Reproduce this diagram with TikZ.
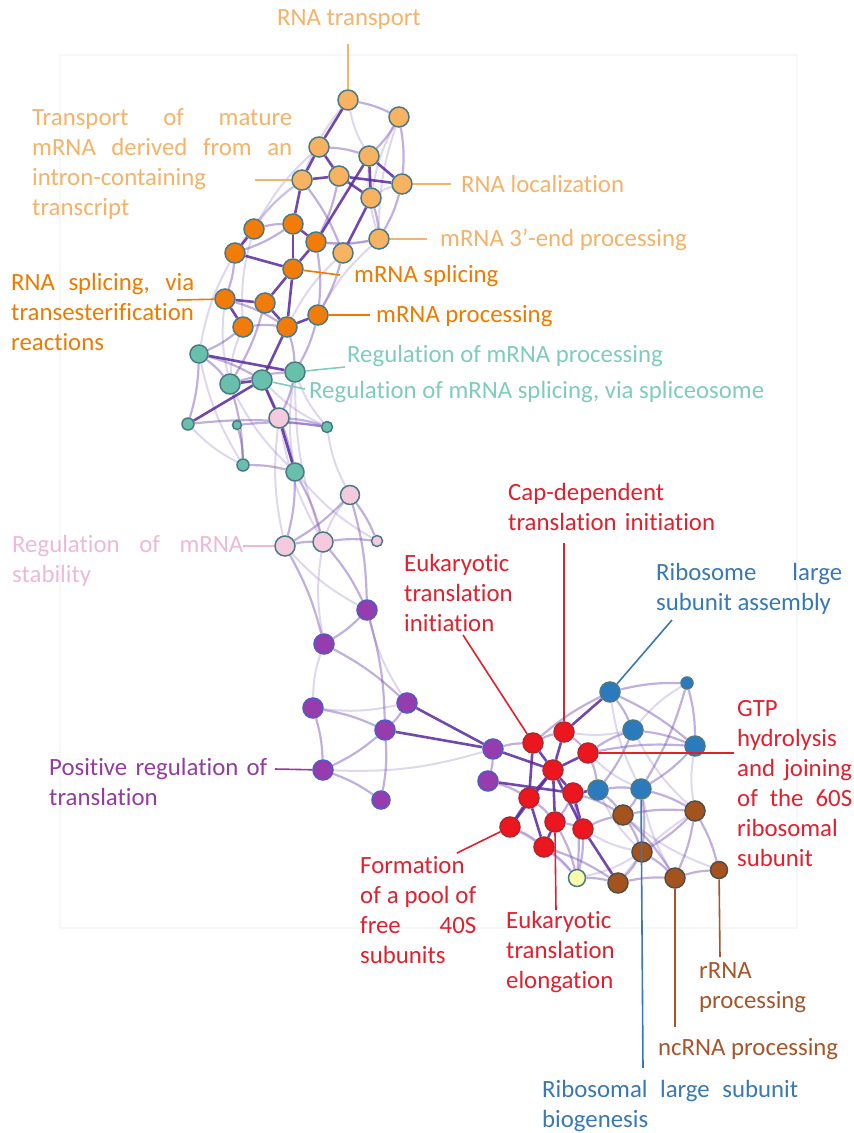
\documentclass[tikz,border=0pt]{standalone}
\usepackage{fontspec}
\setmainfont{Carlito}[Ligatures=NoCommon]
\usetikzlibrary{backgrounds}
\hbadness=10000 \vbadness=10000 \hfuzz=8pt
\definecolor{cLO}{RGB}{245,178,105}
\definecolor{cLOn}{RGB}{247,178,98}
\definecolor{cDO}{RGB}{238,122,0}
\definecolor{cDOn}{RGB}{242,124,10}
\definecolor{cTE}{RGB}{128,204,188}
\definecolor{cTEn}{RGB}{104,192,172}
\definecolor{cPK}{RGB}{236,186,216}
\definecolor{cPKn}{RGB}{246,202,222}
\definecolor{cPU}{RGB}{146,60,160}
\definecolor{cPUn}{RGB}{150,60,172}
\definecolor{cRD}{RGB}{226,32,45}
\definecolor{cRDn}{RGB}{236,22,30}
\definecolor{cBL}{RGB}{56,120,180}
\definecolor{cBLn}{RGB}{44,122,190}
\definecolor{cBR}{RGB}{166,86,42}
\definecolor{cBRn}{RGB}{164,82,30}
\definecolor{cYEn}{RGB}{248,250,172}
\definecolor{bord}{RGB}{74,122,132}
\definecolor{bordpu}{RGB}{80,90,200}
\definecolor{bordrd}{RGB}{170,40,50}
\definecolor{bordbr}{RGB}{80,80,70}
\definecolor{eS}{RGB}{88,40,160}
\definecolor{eM}{RGB}{118,80,180}
\definecolor{eF}{RGB}{150,122,200}
\begin{document}
\begin{tikzpicture}[x=1pt,y=-1pt,
  nd/.style={circle,inner sep=0pt,minimum size=20pt,draw=bord,line width=1.5pt},
  sm/.style={minimum size=12pt},
  tiny/.style={minimum size=9pt},
  nLO/.style={nd,fill=cLOn},
  nDO/.style={nd,fill=cDOn},
  nTE/.style={nd,fill=cTEn},
  nPK/.style={nd,fill=cPKn},
  nPU/.style={nd,fill=cPUn,draw=bordpu},
  nRD/.style={nd,fill=cRDn,draw=bordrd},
  nBL/.style={nd,fill=cBLn,draw=bord},
  nBR/.style={nd,fill=cBRn,draw=bordbr},
  nYE/.style={nd,fill=cYEn,minimum size=17pt},
  eStrong/.style={draw=eS,line width=2.6pt,opacity=0.85},
  eMid/.style={draw=eM,line width=2.2pt,opacity=0.45,bend left=7},
  eFaint/.style={draw=eF,line width=2pt,opacity=0.3,bend right=9},
  lab/.style={inner sep=0pt,anchor=base west,font=\fontsize{24.8}{30}\selectfont},
  jus/.style={lab,align=justify},
  lft/.style={lab,align=left},
  lead/.style={line width=1.6pt}]
\useasboundingbox (0,0) rectangle (854,1133);
% ---- nodes: light orange
\node[nLO] (lo1) at (348,100) {};
\node[nLO] (lo2) at (399,117) {};
\node[nLO] (lo3) at (319,147) {};
\node[nLO] (lo4) at (369,156) {};
\node[nLO] (lo5) at (339,176) {};
\node[nLO] (lo6) at (302,180) {};
\node[nLO] (lo7) at (402,184) {};
\node[nLO] (lo8) at (371,198) {};
\node[nLO] (lo9) at (379,239) {};
\node[nLO] (lo10) at (343,253) {};
% dark orange
\node[nDO] (do1) at (254,229) {};
\node[nDO] (do2) at (293,224) {};
\node[nDO] (do3) at (316,242) {};
\node[nDO] (do4) at (235,253) {};
\node[nDO] (do5) at (293,269) {};
\node[nDO] (do6) at (225,299) {};
\node[nDO] (do7) at (265,303) {};
\node[nDO] (do8) at (318,315) {};
\node[nDO] (do9) at (243,327) {};
\node[nDO] (do10) at (287,327) {};
% teal
\node[nTE,minimum size=18pt] (te1) at (199,354) {};
\node[nTE] (te2) at (230,384) {};
\node[nTE] (te3) at (262,380) {};
\node[nTE] (te4) at (295,372) {};
\node[nTE,sm] (te5) at (188,424) {};
\node[nTE,tiny] (te6) at (237,425) {};
\node[nTE,sm,minimum size=11pt] (te7) at (327,427) {};
\node[nTE,sm] (te8) at (243,465) {};
\node[nTE,minimum size=18pt] (te9) at (295,472) {};
% pink
\node[nPK] (pk1) at (279,418) {};
\node[nPK,minimum size=19pt] (pk2) at (350,495) {};
\node[nPK] (pk3) at (285,546) {};
\node[nPK] (pk4) at (323,542) {};
\node[nPK,sm,minimum size=11pt] (pk5) at (377,541) {};
% purple
\node[nPU] (pu1) at (367,610) {};
\node[nPU] (pu2) at (324,644) {};
\node[nPU] (pu3) at (313,708) {};
\node[nPU] (pu4) at (407,703) {};
\node[nPU] (pu5) at (385,730) {};
\node[nPU] (pu6) at (323,770) {};
\node[nPU,minimum size=18pt] (pu7) at (381,800) {};
\node[nPU] (pu8) at (493,749) {};
\node[nPU] (pu9) at (488,781) {};
% red
\node[nRD] (rd1) at (533,743) {};
\node[nRD] (rd2) at (564,732) {};
\node[nRD] (rd3) at (588,753) {};
\node[nRD] (rd4) at (553,770) {};
\node[nRD] (rd5) at (529,798) {};
\node[nRD] (rd6) at (573,793) {};
\node[nRD] (rd7) at (510,827) {};
\node[nRD] (rd8) at (555,822) {};
\node[nRD] (rd9) at (583,829) {};
\node[nRD] (rd10) at (544,847) {};
% yellow
\node[nYE] (ye) at (577,878) {};
% blue
\node[nBL] (bl1) at (610,692) {};
\node[nBL,sm] (bl2) at (687,683) {};
\node[nBL] (bl3) at (633,730) {};
\node[nBL] (bl4) at (695,746) {};
\node[nBL] (bl5) at (598,790) {};
\node[nBL] (bl6) at (641,789) {};
% brown
\node[nBR] (br1) at (623,815) {};
\node[nBR] (br2) at (695,811) {};
\node[nBR] (br3) at (642,852) {};
\node[nBR] (br4) at (618,883) {};
\node[nBR] (br5) at (675,878) {};
\node[nBR,minimum size=17pt] (br6) at (719,870) {};
% ---- edges
\begin{pgfonlayer}{background}
\draw[black!3,line width=1.5pt] (60,55) rectangle (797,928);
\foreach \a/\b in {lo1/lo4,lo2/lo9,lo3/do1,lo6/do1,lo6/do4,lo7/lo8,lo4/lo9,lo9/do8,lo10/do10,do1/do9,do4/te1,do6/te2,do9/te2,te4/te7,te4/pk4,te5/te8,te1/te8,te3/te7,te2/te9,pk1/pk3,pk1/pk4,pk2/pk4,te9/pk5,pk3/pu1,pk4/pu2,pu2/pu3,pu1/pu4,pu3/pu4,pu6/pu8,bl1/bl6,bl2/bl3,bl3/br2,bl4/br2,br2/br4,bl5/br3,br1/br6,bl6/br5,rd2/bl3,rd3/bl6,rd9/br3,ye/br3,ye/rd7,lo2/lo8,lo1/lo6,do3/lo9,te7/pk2,te4/te9}
  \draw[eFaint] (\a) to (\b);
\foreach \a/\b in {lo1/lo2,lo2/lo4,lo2/lo7,lo3/lo4,lo6/lo10,lo7/lo9,lo8/lo9,lo9/do3,lo10/do8,lo5/do3,do1/do2,do2/do4,do3/do8,do4/do6,do6/do10,do9/do10,do7/te2,do9/te1,do10/te4,do8/te4,te1/te2,te2/te4,te1/te5,te4/pk1,te5/te7,te6/te7,te2/te8,te8/te9,te6/te8,te3/te9,te1/te3,pk1/te7,te9/pk3,te9/pk4,pk2/pk3,pk3/pk4,pk4/pk5,pk2/pk5,pk2/pu1,pk3/pu2,pk4/pu1,pu1/pu2,pu1/pu5,pu3/pu5,pu3/pu6,pu4/pu5,pu5/pu6,pu5/pu7,pu6/pu7,pu9/rd5,pu8/rd1,pu8/pu9,pu2/pu4,bl1/bl3,bl1/bl4,bl1/bl2,bl2/bl4,bl3/bl4,bl3/bl5,bl5/bl6,bl4/bl6,bl2/bl6,bl6/br2,br1/br2,br1/br3,br2/br3,br3/br4,br3/br5,br4/br5,br5/br6,br2/br6,br2/br5,br1/br5,rd3/bl5,rd2/rd3,rd1/rd2,rd6/rd8,rd8/rd9,rd7/rd10,rd10/ye,rd8/ye,rd6/ye,rd9/ye,rd5/rd8,rd9/br1,rd6/br1,rd3/bl4,bl5/br1,bl6/br1,bl6/br3,rd10/br4,ye/br4,rd1/bl1,rd3/bl3}
  \draw[eMid] (\a) to (\b);
\foreach \a/\b in {lo1/lo3,lo3/lo5,lo5/lo7,lo6/lo5,lo5/lo8,lo4/lo8,lo8/lo10,lo6/do2,lo3/lo6,lo4/lo7,do2/do3,do2/do5,do1/do4,do4/do5,do3/do5,do5/do7,do5/do10,do6/do7,do7/do10,do6/do9,do10/do8,do10/te3,te3/pk1,pk1/te9,te1/te4,te5/te3,te2/te3,pu4/pu8,pu5/pu8,rd1/rd4,rd2/rd4,rd3/rd4,rd4/rd5,rd4/rd6,rd4/rd8,rd5/rd7,rd4/rd7,rd6/rd9,rd8/rd10,pu8/rd4,pu9/rd6,rd2/bl1,rd9/br4,rd6/bl5,rd4/rd9,rd1/rd5,rd5/rd10,lo4/do3}
  \draw[eStrong] (\a) -- (\b);
\end{pgfonlayer}
% ---- label end points
\coordinate (eRT) at (348,44);
\coordinate (eTM) at (255,180);
\coordinate (eRL) at (451,184);
\coordinate (eME) at (427,239);
\coordinate (eMS) at (340,275);
\coordinate (eRS) at (177,300);
\coordinate (eMP) at (370,315);
\coordinate (eRP) at (345,367);
\coordinate (eRSS) at (305,389);
\coordinate (eST) at (243,546);
\coordinate (ePR) at (275,769);
\coordinate (eCD) at (564,543);
\coordinate (eEI) at (463,635);
\coordinate (eRA) at (672,620);
\coordinate (eGT) at (734,753);
\coordinate (eFP) at (457,853);
\coordinate (eEE) at (556,910);
\coordinate (eRR) at (720,957);
\coordinate (eNC) at (675,1027);
\coordinate (eRB) at (643,1068);
% ---- leaders
\draw[lead,cLO] (lo1) -- (eRT);
\draw[lead,cLO] (lo6) -- (eTM);
\draw[lead,cLO] (lo7) -- (eRL);
\draw[lead,cLO] (lo9) -- (eME);
\draw[lead,cDO] (do5) -- (eMS);
\draw[lead,cDO] (do6) -- (eRS);
\draw[lead,cDO] (do8) -- (eMP);
\draw[lead,cTE] (te4) -- (eRP);
\draw[lead,cTE] (te3) -- (eRSS);
\draw[lead,cPK] (pk3) -- (eST);
\draw[lead,cPU] (pu6) -- (ePR);
\draw[lead,cRD] (rd2) -- (eCD);
\draw[lead,cRD] (rd1) -- (eEI);
\draw[lead,cBL] (bl1) -- (eRA);
\draw[lead,cRD] (rd3) -- (eGT);
\draw[lead,cRD] (rd7) -- (eFP);
\draw[lead,cRD] (rd8.south) -- (eEE);
\draw[lead,cBR] (br6) -- (eRR);
\draw[lead,cBR] (br5) -- (eNC);
\draw[lead,cBL] (bl6) -- (eRB);
% ---- labels
\node[lab,anchor=base,cLO] (tRT) at (349,25) {RNA transport};
\node[jus,text width=260pt,cLO] (tTM) at (32,125) {Transport of mature\linebreak mRNA derived from an\linebreak intron-containing\linebreak transcript};
\node[lab,cLO] (tRL) at (461,192) {RNA localization};
\node[lab,cLO] (tME) at (440,246) {mRNA 3’-end processing};
\node[lab,cDO] (tMS) at (354,282) {mRNA splicing};
\node[jus,text width=183pt,cDO] (tRS) at (11,290) {RNA splicing, via\linebreak transesterification\linebreak reactions};
\node[lab,cDO] (tMP) at (376,322) {mRNA processing};
\node[lab,cTE] (tRP) at (347,362) {Regulation of mRNA processing};
\node[lab,cTE] (tRSS) at (309,398) {Regulation of mRNA splicing, via spliceosome};
\node[jus,text width=231pt,cPK] (tST) at (12,552) {Regulation of mRNA\linebreak stability};
\node[lft,text width=240pt,cPU] (tPR) at (49,775) {Positive regulation of\\translation};
\node[lft,text width=240pt,cRD] (tCD) at (508,500) {Cap-dependent\\translation initiation};
\node[lft,text width=140pt,cRD] (tEI) at (404,571) {Eukaryotic\\translation\\initiation};
\node[jus,text width=186pt,cBL] (tRA) at (656,580) {Ribosome large\linebreak subunit assembly};
\node[jus,text width=115pt,cRD] (tGT) at (737,716) {GTP\linebreak hydrolysis\linebreak and joining\linebreak of the 60S\linebreak ribosomal\linebreak subunit};
\node[jus,text width=116pt,cRD] (tFP) at (360,873) {Formation\linebreak of a pool of\linebreak free 40S\linebreak subunits};
\node[lft,text width=140pt,cRD] (tEE) at (506,928) {Eukaryotic\\translation\\elongation};
\node[lft,text width=140pt,cBR] (tRR) at (699,978) {rRNA\\processing};
\node[lab,cBR] (tNC) at (658,1055) {ncRNA processing};
\node[jus,text width=256pt,cBL] (tRB) at (542,1097) {Ribosomal large subunit\linebreak biogenesis};
\end{tikzpicture}
\end{document}
